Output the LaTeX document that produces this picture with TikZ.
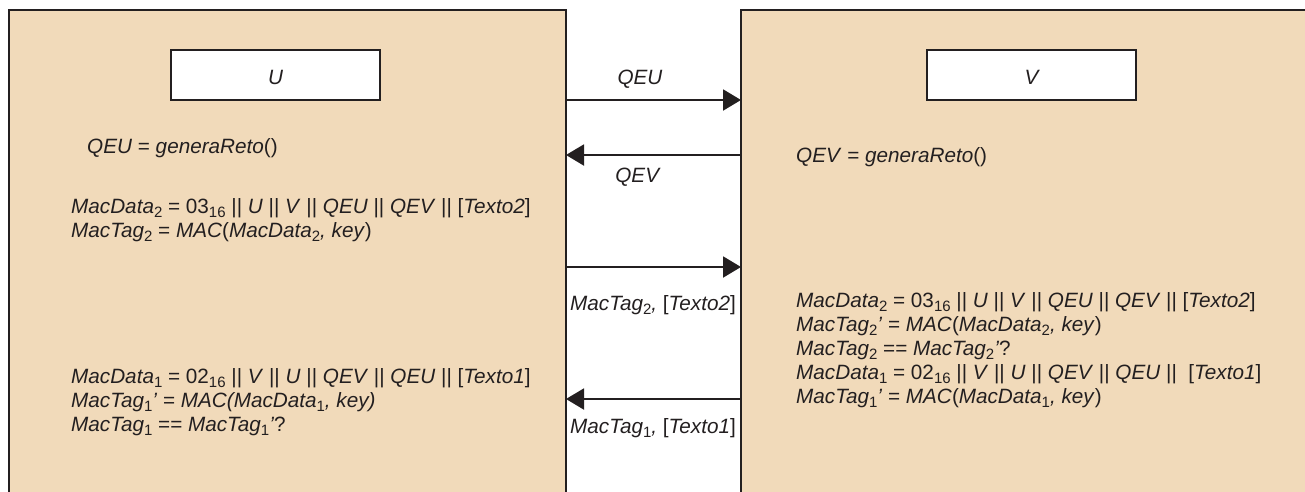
\documentclass[tikz,border=0pt]{standalone}
\usepackage{fontspec}
\setmainfont{Liberation Sans}
\usetikzlibrary{arrows.meta}
\definecolor{wheatfill}{HTML}{F1DABA}
\definecolor{ink}{HTML}{231F20}
\newcommand\sbx[1]{\raisebox{-4.5pt}{\fontsize{15}{15}\selectfont\upshape #1}}
\newcommand\ix[1]{\textit{#1}}
\tikzset{
  party/.style={draw=ink, fill=wheatfill, line width=2pt, rectangle, outer sep=0pt, inner sep=0pt},
  namebox/.style={draw=ink, fill=white, line width=2pt, rectangle, outer sep=0pt, inner sep=0pt,
    minimum width=209pt, minimum height=50pt, text height=19pt, text depth=0pt, text=ink, font=\fontsize{20.7}{24}\selectfont\itshape},
  txt/.style={anchor=base west, inner sep=0pt, text=ink, font=\fontsize{20.7}{24}\selectfont},
  lbl/.style={anchor=base, inner sep=0pt, text=ink, font=\fontsize{20.7}{24}\selectfont},
  msg/.style={draw=ink, line width=2pt, -{Triangle[length=18pt,width=21pt]}}
}
\begin{document}
\begin{tikzpicture}[x=1pt,y=-1pt]
\useasboundingbox (0,0) rectangle (1305,491);
\clip (0,0) rectangle (1305,491);
% party boxes
\node[party, anchor=north west, minimum width=557pt, minimum height=520pt] (L) at (9,10) {};
\node[party, anchor=north west, minimum width=600pt, minimum height=520pt] (R) at (741,10) {};
\node[namebox] (U) at (275.5,75) {U};
\node[namebox] (V) at (1031.5,75) {V};
% message levels
\coordinate (m1) at (0,100);
\coordinate (m2) at (0,155);
\coordinate (m3) at (0,267);
\coordinate (m4) at (0,399);
\draw[msg] (L.east |- m1) -- (R.west |- m1);
\draw[msg] (R.west |- m2) -- (L.east |- m2);
\draw[msg] (L.east |- m3) -- (R.west |- m3);
\draw[msg] (R.west |- m4) -- (L.east |- m4);
\node[lbl] (l1) at (640,84) {\ix{QEU}};
\node[lbl] (l2) at (638,182) {\ix{QEV}};
\node[lbl] (l3) at (653,310) {\ix{MacTag}\sbx{2}\ix{,} [\ix{Texto2}]};
\node[lbl] (l4) at (653,433) {\ix{MacTag}\sbx{1}\ix{,} [\ix{Texto1}]};
% U side
\node[txt] (t1) at (87,153) {\ix{QEU} = \ix{generaReto}()};
\node[txt] (t2) at (71,213) {\ix{MacData}\sbx{2} = 03\sbx{16} || \ix{U} || \ix{V} || \ix{QEU} || \ix{QEV} || [\ix{Texto2}]};
\node[txt] (t3) at (71,237) {\ix{MacTag}\sbx{2} = \ix{MAC}(\ix{MacData}\sbx{2}\ix{, key})};
\node[txt] (t4) at (71,383) {\ix{MacData}\sbx{1} = 02\sbx{16} || \ix{V} || \ix{U} || \ix{QEV} || \ix{QEU} || [\ix{Texto1}]};
\node[txt] (t5) at (71,407) {\ix{MacTag}\sbx{1}\ix{’} = \ix{MAC(MacData}\sbx{1}\ix{, key)}};
\node[txt] (t6) at (71,431) {\ix{MacTag}\sbx{1} == \ix{MacTag}\sbx{1}\ix{’}?};
% V side
\node[txt] (r1) at (796,162) {\ix{QEV} = \ix{generaReto}()};
\node[txt] (r2) at (796,307) {\ix{MacData}\sbx{2} = 03\sbx{16} || \ix{U} || \ix{V} || \ix{QEU} || \ix{QEV} || [\ix{Texto2}]};
\node[txt] (r3) at (796,331) {\ix{MacTag}\sbx{2}\ix{’} = \ix{MAC}(\ix{MacData}\sbx{2}\ix{, key})};
\node[txt] (r4) at (796,355) {\ix{MacTag}\sbx{2} == \ix{MacTag}\sbx{2}\ix{’}?};
\node[txt] (r5) at (796,379) {\ix{MacData}\sbx{1} = 02\sbx{16} || \ix{V} || \ix{U} || \ix{QEV} || \ix{QEU} ||\ \ [\ix{Texto1}]};
\node[txt] (r6) at (796,403) {\ix{MacTag}\sbx{1}\ix{’} = \ix{MAC}(\ix{MacData}\sbx{1}\ix{, key})};
\end{tikzpicture}
\end{document}
